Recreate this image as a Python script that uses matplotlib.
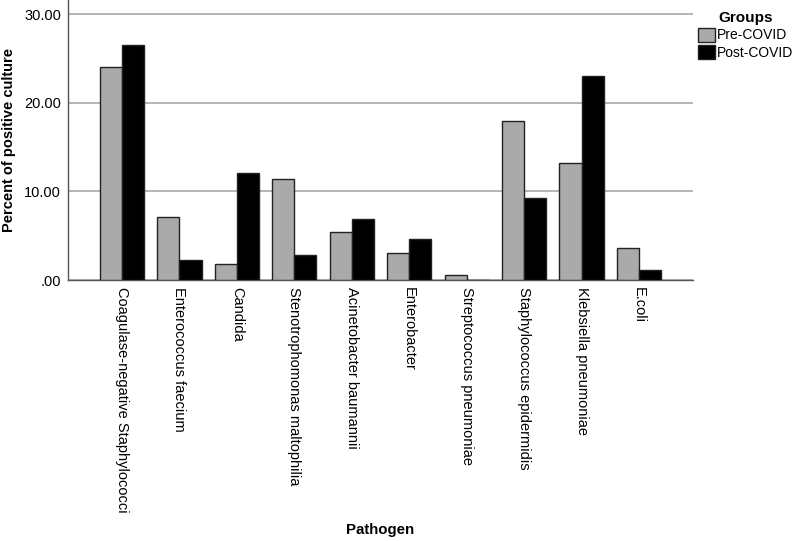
import matplotlib
matplotlib.use("Agg")
import matplotlib.pyplot as plt
import numpy as np

plt.rcParams['font.family'] = ['Liberation Sans', 'DejaVu Sans']

categories = ["Coagulase-negative Staphylococci", "Enterococcus faecium", "Candida",
              "Stenotrophomonas maltophilia", "Acinetobacter baumannii", "Enterobacter",
              "Streptococcus pneumoniae", "Staphylococcus epidermidis",
              "Klebsiella pneumoniae", "E.coli"]
pre_covid = [24.0, 7.15, 1.8, 11.4, 5.4, 3.0, 0.6, 18.0, 13.15, 3.6]
post_covid = [26.5, 2.3, 12.1, 2.85, 6.9, 4.65, 0.05, 9.2, 23.0, 1.15]
yticks = [0, 10, 20, 30]
ytick_labels = [".00", "10.00", "20.00", "30.00"]

fig = plt.figure(figsize=(7.97, 5.41), dpi=100)
ax = fig.add_axes([0.0853, 0.4824, 0.7842, 0.5176])

x = np.arange(len(categories))
w = 0.385
ax.bar(x - w/2, pre_covid, w, color='#aaaaaa', edgecolor='#222222', linewidth=1.0,
       label='Pre-COVID', zorder=3)
ax.bar(x + w/2, post_covid, w, color='#000000', edgecolor='#222222', linewidth=1.0,
       label='Post-COVID', zorder=3)

ax.set_xlim(-0.94, 9.94)
ax.set_ylim(0, 31.6)
ax.set_yticks(yticks)
ax.set_yticklabels(ytick_labels, fontsize=10.5)
ax.set_xticks(x)
ax.set_xticklabels(categories, rotation=270, fontsize=10.5, va='top', ha='center')
ax.tick_params(axis='both', length=0, pad=5)
ax.grid(axis='y', color='#a8a8a8', linewidth=1.2, zorder=0)
for s in ['top', 'right']:
    ax.spines[s].set_visible(False)
ax.spines['left'].set_color('#555555')
ax.spines['bottom'].set_color('#555555')
ax.spines['left'].set_linewidth(1.0)
ax.spines['bottom'].set_linewidth(1.0)

fig.text(9/797, 1 - 140/541, "Percent of positive culture", fontsize=10.5,
         fontweight='bold', rotation=90, ha='center', va='center')
fig.text(380/797, 1 - 530/541, "Pathogen", fontsize=10.8, fontweight='bold',
         ha='center', va='center')

leg = ax.legend(loc='upper left', bbox_to_anchor=(0.864, 0.998),
                bbox_transform=fig.transFigure, frameon=False, fontsize=10,
                title='Groups', title_fontproperties={'weight': 'bold', 'size': 11},
                handlelength=1.2, handleheight=1.2, handletextpad=0.15,
                labelspacing=0.2, borderpad=0.2)

fig.savefig("out.png", dpi=100)
